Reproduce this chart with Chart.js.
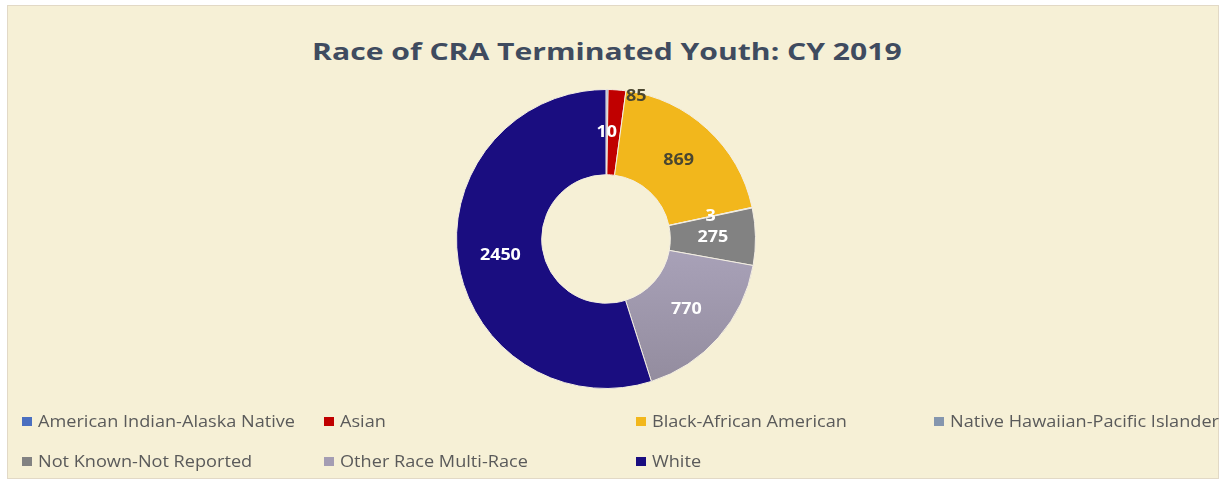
<!DOCTYPE html>
<html>
<head>
<meta charset="utf-8">
<script src="https://cdn.jsdelivr.net/npm/chart.js@4.4.1/dist/chart.umd.min.js"></script>
<style>
  html, body { margin: 0; padding: 0; background: #ffffff; }
  body { width: 1227px; height: 485px; position: relative; overflow: hidden; font-family: "Open Sans", sans-serif; }
  #panel {
    position: absolute; left: 7px; top: 5px; width: 1212px; height: 474px;
    background: #f6f0d6; border: 1px solid #e2d9c6; box-sizing: border-box;
  }
  #title {
    position: absolute; left: 0; width: 1214px; top: 34px; text-align: center;
    font-family: "Open Sans", sans-serif; font-weight: 700; font-size: 24px;
    color: #3f4b5f; white-space: nowrap;
  }
  #title span { display: inline-block; transform: scaleX(1.255); transform-origin: center; }
  #donut { position: absolute; left: 456px; top: 89px; width: 300px; height: 300px; }
  #legend { position: absolute; left: 0; top: 0; width: 1227px; height: 485px; pointer-events: none; }
  .item { position: absolute; font-size: 15.5px; color: #5a5a5a; white-space: nowrap; line-height: 20px; }
  .sw { display: inline-block; width: 10px; height: 9px; margin-right: 6px; vertical-align: 1px; }
  .txt { display: inline-block; transform: scaleX(1.17); transform-origin: left center; }
</style>
</head>
<body>
<div id="panel"></div>
<div id="title"><span>Race of CRA Terminated Youth: CY 2019</span></div>
<div id="donut"><canvas id="c" width="300" height="300"></canvas></div>
<div id="legend"></div>
<script>
// Race categories and terminated-youth counts, CY 2019
const categories = [
  "American Indian-Alaska Native",
  "Asian",
  "Black-African American",
  "Native Hawaiian-Pacific Islander",
  "Not Known-Not Reported",
  "Other Race Multi-Race",
  "White"
];
const counts = [10, 85, 869, 3, 275, 770, 2450];

// Slice colours, one per category
const sliceColors = ["#4a6fc0", "#c00000", "#f2b71c", "#8596ae", "#828282", "#a49db3", "#1a0d80"];
// Value label colour per slice
const labelColors = ["#ffffff", "#4a4630", "#4a4630", "#ffffff", "#ffffff", "#ffffff", "#ffffff"];

// Label placement overrides (angle in degrees clockwise from top, radius as fraction of outer radius)
const labelOverrides = { 1: { angle: 12, radius: 0.975 } };

// Legend grid: 4 columns, 2 rows
const legendCols = [22, 324, 636, 934];
const legendRows = [411, 451];

const legend = document.getElementById("legend");
categories.forEach((name, i) => {
  const el = document.createElement("div");
  el.className = "item";
  el.style.left = legendCols[i % 4] + "px";
  el.style.top = legendRows[Math.floor(i / 4)] + "px";
  const sw = document.createElement("span");
  sw.className = "sw";
  sw.style.background = sliceColors[i];
  const txt = document.createElement("span");
  txt.className = "txt";
  txt.textContent = name;
  el.appendChild(sw);
  el.appendChild(txt);
  legend.appendChild(el);
});

// Soft top-to-bottom shading used on the multi-race slice
function sliceFill(context) {
  const i = context.dataIndex;
  const area = context.chart.chartArea;
  if (i === 5 && area) {
    const g = context.chart.ctx.createLinearGradient(0, area.top + area.height * 0.5, 0, area.bottom);
    g.addColorStop(0, "#aaa3ba");
    g.addColorStop(1, "#928b9d");
    return g;
  }
  return sliceColors[i];
}

// Draws each slice's value inside the ring
const valueLabels = {
  id: "valueLabels",
  afterDatasetsDraw(chart) {
    const ctx = chart.ctx;
    const meta = chart.getDatasetMeta(0);
    meta.data.forEach((arc, i) => {
      const p = arc.getProps(["x", "y", "startAngle", "endAngle", "innerRadius", "outerRadius"], true);
      let ang = (p.startAngle + p.endAngle) / 2;
      let r = (p.innerRadius + p.outerRadius) / 2;
      const ov = labelOverrides[i];
      if (ov) {
        ang = ov.angle * Math.PI / 180 - Math.PI / 2;
        r = p.outerRadius * ov.radius;
      }
      const x = p.x + Math.cos(ang) * r;
      const y = p.y + Math.sin(ang) * r;
      ctx.save();
      ctx.translate(x, y);
      ctx.scale(1.12, 1);
      ctx.font = "700 16px 'Open Sans', sans-serif";
      ctx.textAlign = "center";
      ctx.textBaseline = "middle";
      ctx.fillStyle = labelColors[i];
      ctx.fillText(String(chart.data.datasets[0].data[i]), 0, 0);
      ctx.restore();
    });
  }
};

new Chart(document.getElementById("c"), {
  type: "doughnut",
  data: {
    labels: categories,
    datasets: [{
      data: counts,
      backgroundColor: sliceFill,
      borderColor: "#f3eee2",
      borderWidth: 1
    }]
  },
  options: {
    responsive: false,
    animation: false,
    cutout: "43%",
    layout: { padding: 0 },
    plugins: { legend: { display: false }, title: { display: false }, tooltip: { enabled: false } }
  },
  plugins: [valueLabels]
});
</script>
</body>
</html>
